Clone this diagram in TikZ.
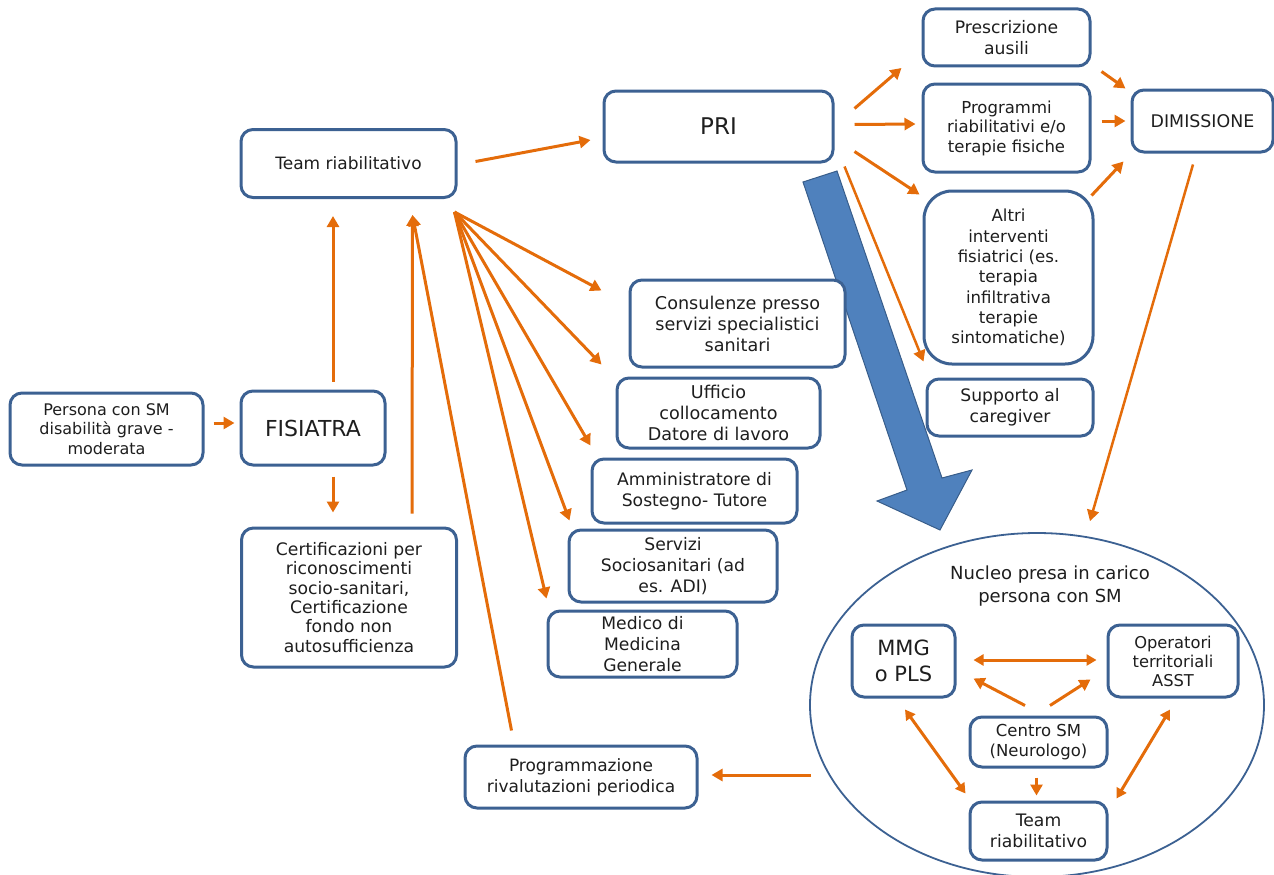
\documentclass[tikz,border=0pt]{standalone}
\usepackage{fontspec}
\setmainfont{DejaVu Sans}
\usetikzlibrary{arrows.meta,calc,shapes.geometric}
\definecolor{boxblue}{RGB}{60,97,146}
\definecolor{orng}{RGB}{228,108,10}
\definecolor{bigblue}{RGB}{79,129,189}
\definecolor{bigblueedge}{RGB}{56,93,138}
\definecolor{txt}{RGB}{30,30,30}
\newcommand\fsz[2]{\fontsize{#1}{#2}\selectfont}
\tikzset{
  box/.style={draw=boxblue, line width=3pt, rounded corners=12pt, fill=white,
    align=center, inner sep=0pt, text=txt},
  arr/.style={draw=orng, line width=3pt, -{Triangle[length=11pt,width=12pt]}},
  darr/.style={draw=orng, line width=3pt, {Triangle[length=10pt,width=11pt]}-{Triangle[length=10pt,width=11pt]}},
  bigarrow/.style={fill=bigblue, draw=bigblueedge, line width=1pt, line join=miter}
}
\begin{document}
\begin{tikzpicture}[x=1pt,y=-1pt]
\useasboundingbox (0,0) rectangle (1274,875);
\begin{scope}
\clip (0,0) rectangle (1274,875);
\node[draw=boxblue, line width=1.8pt, ellipse, minimum width=454pt, minimum height=344pt, inner sep=0pt] (nucleo) at (1037,705) {};
\end{scope}

% big blue arrow
\draw[bigarrow] (803,182) -- (837,171) -- (942,478) -- (972,470) -- (940,530) -- (877,501) -- (907,490) -- cycle;

% nodes
\node[box, minimum width=193pt, minimum height=72pt, font=\fsz{16}{19.5}] (persona) at (106.5,429) {Persona con SM\\disabilità grave -\\moderata};
\node[box, minimum width=144pt, minimum height=74pt, font=\fsz{22}{26}] (fis) at (313,428) {FISIATRA};
\node[box, minimum width=215pt, minimum height=68pt, font=\fsz{17}{20}] (team) at (348.5,163.5) {Team riabilitativo};
\node[box, minimum width=215pt, minimum height=139pt, font=\fsz{17.2}{19.3}] (cert) at (349,597.5) {Certificazioni per\\riconoscimenti\\socio-sanitari,\\Certificazione\\fondo non\\autosufficienza};
\node[box, minimum width=229pt, minimum height=71pt, font=\fsz{23}{26}] (pri) at (718.5,126.5) {PRI};
\node[box, minimum width=167pt, minimum height=57pt, font=\fsz{17.2}{21}] (presc) at (1006.5,37.5) {Prescrizione\\ausili};
\node[box, minimum width=167pt, minimum height=88pt, font=\fsz{16.5}{19.5}] (prog) at (1006.5,128) {Programmi\\riabilitativi e/o\\terapie fisiche};
\node[box, rounded corners=28pt, minimum width=169pt, minimum height=173pt, font=\fsz{16.6}{20.3}] (altri) at (1008.5,277.5) {Altri\\interventi\\fisiatrici (es.\\terapia\\infiltrativa\\terapie\\sintomatiche)};
\node[box, minimum width=166pt, minimum height=57pt, font=\fsz{17.2}{21}] (supp) at (1010,407.5) {Supporto al\\caregiver};
\node[box, minimum width=141pt, minimum height=62pt, font=\fsz{17.4}{20}] (dim) at (1202.5,121) {DIMISSIONE};
\node[box, minimum width=215pt, minimum height=87pt, font=\fsz{17.6}{21}] (cons) at (737.5,323.5) {Consulenze presso\\servizi specialistici\\sanitari};
\node[box, minimum width=203pt, minimum height=70pt, font=\fsz{17.6}{21.3}] (uff) at (718.5,413) {Ufficio\\collocamento\\Datore di lavoro};
\node[box, minimum width=205pt, minimum height=64pt, font=\fsz{17.2}{21.5}] (amm) at (694.5,491) {Amministratore di\\Sostegno- Tutore};
\node[box, minimum width=208pt, minimum height=72pt, font=\fsz{17.2}{21}] (serv) at (673,566) {Servizi\\Sociosanitari (ad\\es. ADI)};
\node[box, minimum width=189pt, minimum height=66pt, font=\fsz{17.2}{21.3}] (med) at (642.5,644) {Medico di\\Medicina\\Generale};
\node[box, minimum width=232pt, minimum height=62pt, font=\fsz{17}{21}] (progr) at (581,777) {Programmazione\\rivalutazioni periodica};

% nucleo contents
\node[align=center, text=txt, font=\fsz{18}{23}, inner sep=0pt] (title) at (1050,586) {Nucleo presa in carico\\persona con SM};
\node[box, minimum width=103pt, minimum height=72pt, font=\fsz{21}{26}] (mmg) at (903.5,661) {MMG\\o PLS};
\node[box, minimum width=130pt, minimum height=72pt, font=\fsz{16.3}{19}] (oper) at (1173,661) {Operatori\\territoriali\\ASST};
\node[box, minimum width=137pt, minimum height=50pt, font=\fsz{16.5}{19.3}] (centro) at (1038.5,742) {Centro SM\\(Neurologo)};
\node[box, minimum width=137pt, minimum height=58pt, font=\fsz{17.2}{21.5}] (team2) at (1038.5,831) {Team\\riabilitativo};

% connectors - left part
\draw[arr] ($(persona.east)+(9,-6)$) -- ($(fis.west)+(-5,-5)$);
\draw[arr] ($(fis.north)+(20,-8)$) -- ($(fis.north |- team.south)+(20,17)$);
\draw[arr] ($(fis.south)+(20,10)$) -- ($(fis.south |- cert.north)+(20,-14)$);
\draw[arr] ($(cert.north)+(63,-13)$) -- ($(team.south)+(64,16)$);
\draw[arr] ($(progr.north west)+(48,-14)$) -- ($(team.south)+(64,16)$);

% fan from team
\coordinate (hub) at ($(team.south east)+(-3,13)$);
\draw[arr] (hub) -- ($(cons.north west)+(-27,12)$);
\draw[arr] (hub) -- ($(uff.north west)+(-14,-12)$);
\draw[arr] (hub) -- ($(amm.north west)+(0,-12)$);
\draw[arr] (hub) -- ($(serv.north west)+(2,-8)$);
\draw[arr] (hub) -- ($(med.north west)+(0,-11)$);

% team -> PRI
\draw[arr] ($(team.east)+(18,-2)$) -- ($(pri.west)+(-12,13.5)$);

% PRI outputs
\draw[arr] ($(pri.east)+(20,-18)$) -- ($(presc.west)+(-20,30.5)$);
\draw[arr] ($(pri.east)+(20,-2)$) -- ($(prog.west)+(-6,-4)$);
\draw[arr] ($(pri.east)+(20,25)$) -- ($(altri.north west)+(-3,5)$);
\draw[arr, line width=2.5pt] ($(pri.south east)+(10,3)$) -- ($(supp.north west)+(-2,-16)$);

% to DIMISSIONE
\draw[arr] ($(presc.south east)+(10,4)$) -- ($(dim.north west)+(-5,0)$);
\draw[arr] ($(prog.east)+(10,-7)$) -- ($(dim.west)+(-5,0)$);
\draw[arr] ($(altri.north east)+(-3,6)$) -- ($(dim.south west)+(-7,8)$);
\draw[arr, line width=2.5pt] ($(dim.south)+(-9.5,11)$) -- ($(nucleo.north)+(53,-11)$);

% nucleo -> programmazione
\draw[arr] ($(nucleo.west)+(2,70)$) -- ($(progr.east)+(13,-2)$);

% inside nucleo
\draw[darr] ($(mmg.east)+(17,-1)$) -- ($(oper.west)+(-10,-1)$);
\draw[arr] ($(centro.north)+(-13.5,-10)$) -- ($(mmg.south east)+(17,-20)$);
\draw[arr] ($(centro.north)+(11.5,-10)$) -- ($(oper.south west)+(-16,-19)$);
\draw[darr] ($(mmg.south)+(1.5,11)$) -- ($(team2.north west)+(-3,-7)$);
\draw[darr] ($(oper.south)+(-3,11)$) -- ($(team2.north east)+(8,-2)$);
\draw[arr] ($(centro.south)+(-2,9)$) -- ($(team2.north)+(-2,-5)$);
\end{tikzpicture}
\end{document}
